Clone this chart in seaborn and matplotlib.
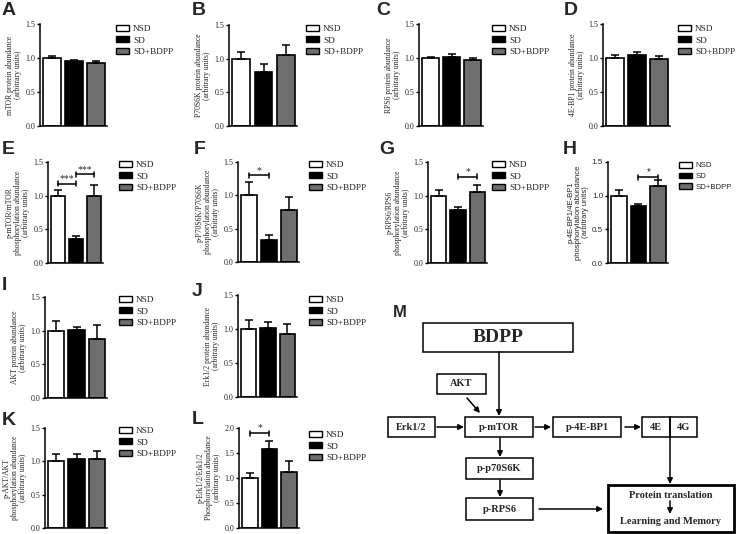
"""Western blot quantification panels (A-L) plus the BDPP/mTOR pathway sketch (M)."""

import matplotlib
matplotlib.use("Agg")

import matplotlib.pyplot as plt
import numpy as np
import pandas as pd
import seaborn as sns
from matplotlib.patches import Patch, Rectangle

W, H = 736, 534

groups = ["NSD", "SD", "SD+BDPP"]
palette = ["#ffffff", "#000000", "#6e6e6e"]

# mean and upper SEM for each panel
mtor_mean = [1.00, 0.95, 0.92]
mtor_sem = [0.03, 0.02, 0.03]
p70_mean = [1.00, 0.80, 1.05]
p70_sem = [0.10, 0.12, 0.15]
rps6_mean = [1.00, 1.02, 0.97]
rps6_sem = [0.02, 0.04, 0.03]
bp1_mean = [1.00, 1.05, 0.98]
bp1_sem = [0.04, 0.04, 0.05]
pmtor_mean = [1.00, 0.36, 0.99]
pmtor_sem = [0.09, 0.04, 0.17]
pp70_mean = [1.00, 0.33, 0.78]
pp70_sem = [0.20, 0.08, 0.19]
prps6_mean = [1.00, 0.79, 1.05]
prps6_sem = [0.08, 0.04, 0.11]
pbp1_mean = [1.00, 0.84, 1.14]
pbp1_sem = [0.09, 0.04, 0.10]
akt_mean = [1.00, 1.01, 0.87]
akt_sem = [0.14, 0.05, 0.22]
erk_mean = [1.00, 1.02, 0.92]
erk_sem = [0.13, 0.08, 0.15]
pakt_mean = [1.00, 1.03, 1.03]
pakt_sem = [0.11, 0.08, 0.12]
perk_mean = [1.00, 1.59, 1.12]
perk_sem = [0.10, 0.15, 0.23]

# significance brackets: (first bar, second bar, height, label)
pmtor_sig = [(0, 1, 1.18, "***"), (1, 2, 1.32, "***")]
pp70_sig = [(0, 1, 1.30, "*")]
prps6_sig = [(1, 2, 1.28, "*")]
pbp1_sig = [(1, 2, 1.27, "*")]
perk_sig = [(0, 1, 1.90, "*")]

ylabels = {
    "A": "mTOR protein abundance\n(arbitrary units)",
    "B": "P70S6K protein abundance\n(arbitrary units)",
    "C": "RPS6 protein abundance\n(arbitrary units)",
    "D": "4E-BP1 protein abundance\n(arbitrary units)",
    "E": "p-mTOR/mTOR\nphosphorylation abundance\n(arbitrary units)",
    "F": "p-P70S6K/P70S6K\nphosphorylation abundance\n(arbitraty units)",
    "G": "p-RPS6/RPS6\nphosphorylation abundance\n(arbitrary units)",
    "H": "p-4E-BP1/4E-BP1\nphosphorylation abundance\n(arbitrary units)",
    "I": "AKT protein abundance\n(arbitrary units)",
    "J": "Erk1/2 protein abundance\n(arbitrary units)",
    "K": "p-AKT/AKT\nphosphorylation abundance\n(arbitrary units)",
    "L": "p-Erk1/2/Erk1/2\nPhosphorylation abundance\n(arbitrary units)",
}

panel_data = {
    "A": (mtor_mean, mtor_sem, []),
    "B": (p70_mean, p70_sem, []),
    "C": (rps6_mean, rps6_sem, []),
    "D": (bp1_mean, bp1_sem, []),
    "E": (pmtor_mean, pmtor_sem, pmtor_sig),
    "F": (pp70_mean, pp70_sem, pp70_sig),
    "G": (prps6_mean, prps6_sem, prps6_sig),
    "H": (pbp1_mean, pbp1_sem, pbp1_sig),
    "I": (akt_mean, akt_sem, []),
    "J": (erk_mean, erk_sem, []),
    "K": (pakt_mean, pakt_sem, []),
    "L": (perk_mean, perk_sem, perk_sig),
}

# layout in pixels: axes box (left, top, right, bottom), legend top-left, letter top-left
axes_px = {
    "A": (40, 24, 107, 126), "B": (229, 25, 297, 126),
    "C": (419, 24, 483, 126), "D": (603, 24, 670, 126),
    "E": (48, 162, 103, 263), "F": (238, 162, 299, 262),
    "G": (428, 162, 487, 263), "H": (608, 162, 668, 263),
    "I": (45, 297, 107, 398), "J": (238, 295, 297, 397),
    "K": (45, 428, 107, 528), "L": (239, 428, 299, 528),
}
legend_px = {
    "A": (116, 25), "B": (306, 25), "C": (492, 25), "D": (678, 25),
    "E": (119, 161), "F": (309, 161), "G": (492, 161), "H": (679, 162),
    "I": (119, 296), "J": (309, 296), "K": (119, 427), "L": (309, 431),
}
letter_px = {
    "A": (2, 2), "B": (192, 2), "C": (376, 2), "D": (564, 2),
    "E": (2, 141), "F": (194, 141), "G": (379, 141), "H": (563, 141),
    "I": (2, 277), "J": (192, 283), "K": (2, 412), "L": (192, 411),
}

SERIF = "Liberation Serif"
SANS = "Liberation Sans"

sns.set_theme(style="ticks")
plt.rcParams["font.family"] = [SERIF, "DejaVu Serif"]


def px_rect(box):
    x0, y0, x1, y1 = box
    return [x0 / W, 1 - y1 / H, (x1 - x0) / W, (y1 - y0) / H]


def draw_panel(fig, key):
    means, sems, sigs = panel_data[key]
    font = SANS if key == "H" else SERIF
    ymax = 2.0 if key == "L" else 1.5

    ax = fig.add_axes(px_rect(axes_px[key]))
    df = pd.DataFrame({"group": groups, "value": means})
    sns.barplot(data=df, x="group", y="value", hue="group", order=groups,
                hue_order=groups, palette=palette, saturation=1, width=0.8,
                edgecolor="black", linewidth=1.2, errorbar=None, legend=False, ax=ax)
    ax.errorbar(np.arange(len(groups)), means, yerr=[np.zeros(len(groups)), sems],
                fmt="none", ecolor="black", elinewidth=1.1, capsize=2.8, capthick=1.1,
                zorder=1)

    for i, j, y, label in sigs:
        d = ymax * 0.025
        ax.plot([i, j], [y, y], color="black", lw=1.1, clip_on=False)
        ax.plot([i, i], [y - d, y + d], color="black", lw=1.1, clip_on=False)
        ax.plot([j, j], [y - d, y + d], color="black", lw=1.1, clip_on=False)
        ax.text((i + j) / 2, y + d * 0.2, label, ha="center", va="bottom",
                fontsize=7, family=font)

    ax.set_xlim(-0.55, 2.5)
    ax.set_ylim(0, ymax)
    ticks = np.arange(0, ymax + 0.01, 0.5)
    ax.set_yticks(ticks)
    ax.set_yticklabels([f"{v:.1f}" for v in ticks], family=font, fontsize=5.8)
    ax.set_xticks([])
    ax.set_xlabel("")
    ax.set_ylabel(ylabels[key], family=font, fontsize=5.5, linespacing=1.05, labelpad=2)
    ax.tick_params(axis="y", length=2.5, width=1, pad=1, color="black")
    for side in ["top", "right"]:
        ax.spines[side].set_visible(False)
    for side in ["left", "bottom"]:
        ax.spines[side].set_linewidth(1.1)
        ax.spines[side].set_color("black")
    ax.set_facecolor("none")

    handles = [Patch(facecolor=c, edgecolor="black", linewidth=1) for c in palette]
    lx, ly = legend_px[key]
    leg_size = 5.6 if key == "H" else 6.7
    ax.legend(handles, groups, loc="upper left", bbox_to_anchor=(lx / W, 1 - ly / H),
              bbox_transform=fig.transFigure, frameon=False,
              prop={"family": font, "size": leg_size},
              handlelength=1.35 * 6.7 / leg_size, handleheight=0.6 * 6.7 / leg_size,
              handletextpad=0.5, labelspacing=0.35 * 6.7 / leg_size,
              borderpad=0, borderaxespad=0)

    tx, ty = letter_px[key]
    fig.text(tx / W, 1 - ty / H, key, ha="left", va="top", fontsize=14,
             fontweight="bold", family=SANS)


# pathway diagram (M), drawn in pixel coordinates
boxes = [
    ("BDPP", (423, 323, 573, 352), 14),
    ("AKT", (437, 374, 486, 394), 7.5),
    ("Erk1/2", (388, 417, 435, 437), 7.5),
    ("p-mTOR", (465, 417, 533, 437), 7.5),
    ("p-4E-BP1", (553, 417, 621, 437), 7.5),
    ("4E", (642, 417, 670, 437), 7.5),
    ("4G", (670, 417, 697, 437), 7.5),
    ("p-p70S6K", (466, 458, 533, 479), 7.5),
    ("p-RPS6", (466, 498, 533, 520), 7.5),
]
arrows = [
    ((499, 352), (499, 416)),
    ((467, 398), (480, 413)),
    ((437, 427), (464, 427)),
    ((535, 427), (551, 427)),
    ((625, 427), (641, 427)),
    ((670, 437), (670, 484)),
    ((500, 438), (500, 457)),
    ((500, 480), (500, 497)),
    ((539, 509), (603, 509)),
    ((670, 501), (670, 514)),
]


def draw_diagram(fig):
    ax = fig.add_axes([0, 0, 1, 1], zorder=-1)
    ax.set_xlim(0, W)
    ax.set_ylim(H, 0)
    ax.axis("off")
    for label, (x0, y0, x1, y1), size in boxes:
        ax.add_patch(Rectangle((x0, y0), x1 - x0, y1 - y0, fill=False,
                               edgecolor="black", lw=1.1))
        ax.text((x0 + x1) / 2, (y0 + y1) / 2, label, ha="center", va="center",
                fontsize=size, fontweight="bold", family=SERIF)
    ax.add_patch(Rectangle((608, 485), 126, 47, fill=False, edgecolor="black", lw=2))
    ax.text(671, 495, "Protein translation", ha="center", va="center",
            fontsize=7.5, fontweight="bold", family=SERIF)
    ax.text(671, 521, "Learning and Memory", ha="center", va="center",
            fontsize=7.5, fontweight="bold", family=SERIF)
    for start, end in arrows:
        ax.annotate("", xy=end, xytext=start,
                    arrowprops=dict(arrowstyle="-|>", color="black", lw=1.1,
                                    mutation_scale=8, shrinkA=0, shrinkB=0))
    fig.text(393 / W, 1 - 305 / H, "M", ha="left", va="top", fontsize=12,
             fontweight="bold", family=SANS)


fig = plt.figure(figsize=(W / 100, H / 100), dpi=100)
fig.patch.set_facecolor("white")
draw_diagram(fig)
for key in panel_data:
    draw_panel(fig, key)

fig.savefig("out.png", dpi=100, facecolor="white")
plt.close(fig)
